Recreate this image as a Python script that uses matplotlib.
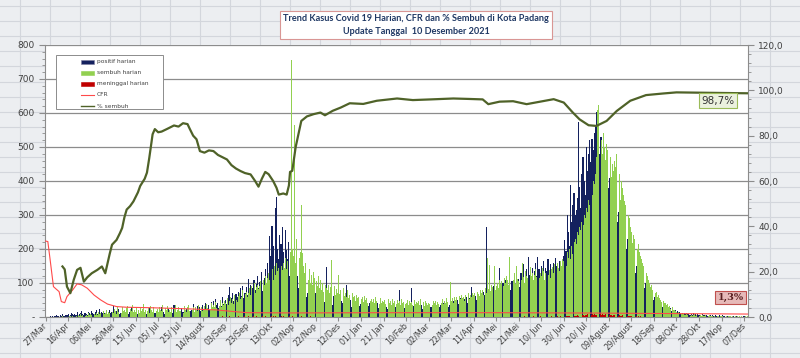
import numpy as np
import matplotlib
matplotlib.use('Agg')
import matplotlib.pyplot as plt
from matplotlib.ticker import MultipleLocator, FuncFormatter
from matplotlib.patches import Rectangle

#----------------------------------------------------------------------
# DATA  (day index 0 = 27 Mar 2020, last day = 10 Des 2021)
tick_labels = ['27/Mar', '16/Apr', '06/Mei', '26/Mei', '15/ Jun', '05/ Jul', '25/ Jul',
               '14/Agust', '03/Sep', '23/Sep', '13/Okt', '02/Nop', '22/Nop', '12/Des',
               '01/ Jan', '21/ Jan', '10/Feb', '02/Mar', '22/Mar', '11/Apr', '01/Mei',
               '21/Mei', '10/ Jun', '30/ Jun', '20/ Jul', '09/Agust', '29/Agust',
               '18/Sep', '08/Okt', '28/Okt', '17/Nop', '07/Des']

positif_harian = [
    2, 0, 1, 0, 3, 0, 2, 1, 4, 2,
    5, 3, 0, 6, 2, 8, 4, 3, 7, 5,
    9, 4, 6, 12, 8, 5, 10, 7, 14, 6,
    8, 11, 17, 9, 6, 13, 10, 7, 15, 12,
    9, 18, 11, 8, 14, 20, 10, 12, 24, 9,
    16, 11, 13, 8, 19, 10, 7, 22, 12, 15,
    32, 14, 9, 18, 11, 25, 8, 13, 20, 10,
    12, 7, 16, 22, 9, 14, 28, 10, 6, 15,
    11, 19, 8, 13, 24, 9, 12, 17, 7, 20,
    10, 14, 26, 9, 15, 8, 18, 11, 13, 22,
    8, 16, 12, 30, 10, 14, 9, 19, 12, 25,
    13, 8, 17, 11, 36, 14, 10, 21, 9, 16,
    12, 27, 15, 9, 18, 24, 11, 30, 14, 19,
    22, 37, 16, 25, 12, 33, 20, 28, 18, 35,
    24, 30, 41, 19, 27, 36, 22, 44, 30, 47,
    28, 52, 35, 40, 26, 48, 31, 58, 37, 45,
    50, 39, 66, 89, 42, 55, 70, 48, 62, 67,
    58, 75, 49, 84, 63, 92, 57, 71, 88, 66,
    112, 74, 95, 60, 86, 110, 78, 98, 121, 84,
    102, 90, 132, 76, 115, 140, 98, 160, 125, 237,
    180, 267, 210, 150, 320, 352, 200, 170, 240, 215,
    265, 190, 143, 256, 197, 170, 220, 120, 198, 160,
    150, 110, 135, 90, 120, 85, 105, 70, 95, 80,
    75, 88, 60, 72, 55, 68, 80, 50, 62, 58,
    70, 48, 55, 64, 42, 58, 50, 60, 45, 148,
    52, 40, 66, 48, 58, 35, 62, 44, 50, 38,
    45, 55, 34, 48, 40, 60, 38, 94, 46, 42,
    36, 50, 30, 44, 52, 28, 40, 35, 48, 32,
    38, 26, 42, 30, 35, 45, 28, 33, 40, 25,
    30, 38, 24, 35, 28, 42, 26, 32, 20, 36,
    28, 22, 34, 30, 25, 38, 24, 29, 20, 33,
    26, 30, 22, 35, 80, 28, 24, 32, 20, 27,
    30, 24, 33, 22, 28, 85, 26, 31, 23, 29,
    25, 32, 20, 28, 35, 24, 30, 22, 27, 34,
    26, 22, 30, 28, 35, 24, 32, 26, 40, 30,
    28, 35, 26, 42, 30, 38, 33, 45, 28, 36,
    40, 32, 48, 36, 44, 30, 50, 38, 55, 42,
    48, 36, 52, 45, 60, 40, 55, 48, 89, 50,
    58, 44, 62, 50, 66, 55, 48, 70, 60, 75,
    65, 266, 80, 60, 72, 55, 85, 68, 90, 62,
    78, 95, 70, 143, 82, 66, 100, 75, 110, 88,
    70, 92, 150, 80, 105, 98, 120, 85, 140, 95,
    112, 88, 130, 100, 155, 92, 118, 140, 105, 177,
    125, 110, 145, 100, 135, 160, 120, 177, 140, 115,
    150, 128, 165, 110, 145, 135, 170, 125, 155, 140,
    130, 160, 145, 175, 150, 138, 165, 155, 148, 170,
    180, 226, 195, 300, 250, 210, 388, 280, 330, 365,
    300, 315, 350, 574, 383, 320, 420, 471, 400, 360,
    500, 430, 480, 520, 455, 525, 490, 540, 565, 604,
    520, 560, 480, 530, 450, 500, 420, 460, 400, 430,
    380, 410, 350, 390, 330, 360, 300, 340, 280, 310,
    260, 290, 240, 270, 220, 250, 200, 230, 180, 210,
    160, 190, 150, 170, 130, 150, 120, 140, 100, 125,
    95, 110, 85, 100, 75, 90, 65, 80, 55, 70,
    50, 60, 45, 55, 40, 48, 35, 42, 30, 38,
    28, 34, 24, 30, 20, 26, 18, 22, 15, 20,
    14, 18, 12, 16, 10, 13, 8, 11, 9, 12,
    8, 10, 6, 9, 7, 11, 5, 8, 6, 9,
    5, 7, 4, 8, 6, 5, 3, 7, 4, 6,
    5, 3, 6, 4, 2, 5, 3, 4, 6, 2,
    3, 5, 2, 4, 1, 3, 2, 4, 3, 1,
    2, 3, 1, 2, 4, 1, 2, 0, 3, 1,
    2, 1, 0, 2]

sembuh_harian = [
    0, 0, 0, 0, 0, 0, 0, 0, 0, 0,
    0, 0, 0, 1, 0, 2, 0, 0, 3, 1,
    0, 2, 4, 0, 3, 1, 5, 2, 0, 6,
    3, 8, 2, 5, 10, 4, 7, 3, 12, 6,
    9, 5, 14, 8, 6, 11, 7, 16, 9, 13,
    10, 18, 8, 12, 20, 9, 15, 11, 22, 14,
    12, 25, 18, 10, 30, 15, 22, 13, 28, 17,
    20, 14, 26, 32, 11, 24, 18, 35, 16, 22,
    15, 28, 20, 12, 30, 18, 25, 38, 14, 22,
    19, 26, 12, 33, 21, 16, 28, 40, 18, 24,
    14, 30, 22, 18, 35, 12, 26, 20, 32, 16,
    22, 15, 28, 18, 25, 34, 14, 20, 30, 17,
    19, 26, 13, 32, 21, 16, 28, 35, 18, 24,
    20, 28, 15, 30, 22, 18, 35, 24, 29, 19,
    25, 32, 20, 38, 26, 30, 22, 40, 28, 35,
    30, 45, 26, 38, 33, 50, 28, 42, 36, 48,
    40, 55, 35, 47, 60, 42, 52, 38, 65, 50,
    45, 62, 70, 52, 58, 80, 55, 68, 75, 60,
    70, 85, 66, 92, 78, 100, 72, 88, 95, 82,
    90, 105, 80, 110, 95, 120, 100, 115, 130, 108,
    120, 140, 110, 150, 125, 160, 135, 145, 170, 150,
    138, 160, 145, 175, 140, 165, 150, 190, 756, 200,
    180, 565, 160, 230, 210, 175, 190, 330, 187, 150,
    130, 160, 120, 110, 140, 100, 125, 95, 133, 115,
    105, 90, 120, 85, 110, 80, 100, 75, 95, 85,
    80, 95, 70, 88, 168, 75, 90, 65, 82, 70,
    124, 68, 78, 60, 85, 62, 72, 58, 80, 55,
    65, 50, 70, 58, 62, 48, 66, 55, 60, 109,
    52, 58, 45, 62, 50, 56, 42, 60, 48, 54,
    45, 52, 40, 58, 46, 50, 38, 55, 42, 48,
    44, 50, 38, 46, 52, 40, 48, 36, 54, 42,
    46, 38, 50, 42, 48, 35, 52, 40, 45, 38,
    42, 50, 36, 48, 40, 45, 34, 50, 38, 44,
    40, 46, 35, 52, 38, 44, 32, 48, 40, 36,
    42, 38, 50, 35, 46, 40, 48, 36, 44, 38,
    45, 40, 52, 38, 48, 42, 55, 45, 50, 104,
    48, 55, 42, 60, 50, 58, 45, 62, 52, 66,
    55, 60, 48, 66, 58, 70, 52, 65, 60, 72,
    65, 70, 58, 75, 68, 62, 80, 72, 78, 66,
    85, 70, 173, 82, 153, 76, 95, 88, 150, 80,
    92, 100, 85, 110, 96, 105, 90, 115, 100, 120,
    108, 95, 177, 102, 0, 110, 130, 98, 150, 112,
    105, 125, 110, 160, 118, 100, 135, 122, 115, 177,
    148, 120, 130, 110, 125, 140, 118, 132, 115, 128,
    120, 145, 135, 110, 130, 150, 125, 138, 115, 140,
    148, 130, 155, 140, 160, 145, 135, 165, 150, 170,
    165, 180, 150, 190, 175, 200, 170, 210, 185, 220,
    230, 215, 250, 240, 265, 255, 280, 270, 300, 290,
    320, 310, 344, 330, 370, 360, 400, 390, 420, 471,
    609, 623, 450, 520, 480, 540, 500, 462, 510, 490,
    668, 470, 413, 450, 430, 460, 440, 480, 516, 420,
    344, 400, 380, 360, 340, 330, 320, 300, 290, 265,
    250, 217, 240, 230, 210, 200, 215, 190, 180, 170,
    160, 150, 140, 130, 120, 110, 100, 89, 95, 80,
    85, 70, 75, 60, 65, 55, 50, 45, 48, 40,
    42, 35, 38, 30, 32, 25, 28, 22, 20, 18,
    15, 12, 14, 11, 10, 8, 9, 7, 6, 8,
    5, 7, 4, 6, 3, 5, 8, 4, 6, 3,
    4, 6, 3, 5, 2, 4, 6, 3, 2, 5,
    3, 2, 4, 1, 3, 5, 2, 4, 1, 3,
    2, 4, 1, 3, 2, 1, 3, 2, 4, 1,
    2, 1, 3, 1, 2, 0, 2, 1, 3, 1,
    1, 2, 1, 2]

meninggal_harian = [
    0, 0, 1, 0, 0, 0, 1, 0, 0, 0,
    0, 1, 0, 0, 0, 0, 0, 1, 0, 0,
    0, 0, 0, 1, 0, 0, 0, 0, 0, 0,
    1, 0, 0, 0, 0, 0, 0, 0, 1, 0,
    0, 0, 0, 0, 0, 1, 0, 0, 0, 0,
    0, 0, 0, 0, 0, 0, 0, 0, 1, 0,
    0, 0, 0, 1, 0, 0, 0, 0, 0, 0,
    0, 0, 0, 0, 0, 1, 0, 0, 0, 0,
    0, 0, 0, 0, 0, 0, 0, 1, 0, 0,
    0, 0, 0, 0, 0, 0, 0, 0, 0, 1,
    0, 0, 0, 0, 0, 0, 1, 0, 0, 0,
    0, 0, 1, 0, 0, 0, 0, 0, 0, 0,
    0, 1, 0, 0, 0, 0, 0, 0, 1, 0,
    0, 0, 0, 1, 0, 0, 0, 0, 0, 1,
    0, 0, 1, 0, 0, 0, 1, 0, 0, 0,
    1, 0, 0, 0, 1, 0, 0, 2, 0, 0,
    1, 0, 0, 2, 0, 1, 0, 0, 1, 0,
    0, 2, 0, 1, 0, 0, 3, 0, 1, 0,
    2, 0, 1, 0, 3, 1, 0, 2, 0, 1,
    1, 0, 2, 1, 0, 3, 1, 0, 2, 1,
    2, 1, 3, 0, 2, 4, 1, 2, 0, 3,
    1, 2, 0, 3, 1, 0, 2, 1, 0, 2,
    1, 0, 2, 0, 1, 1, 0, 2, 0, 1,
    0, 1, 0, 1, 0, 2, 0, 0, 1, 0,
    1, 0, 0, 1, 0, 0, 1, 0, 0, 1,
    0, 0, 1, 0, 0, 1, 0, 0, 0, 1,
    0, 1, 0, 0, 0, 1, 0, 0, 1, 0,
    0, 0, 1, 0, 0, 0, 1, 0, 0, 0,
    1, 0, 0, 0, 1, 0, 0, 0, 1, 0,
    0, 0, 1, 0, 0, 0, 0, 1, 0, 0,
    0, 1, 0, 0, 0, 0, 1, 0, 0, 0,
    1, 0, 0, 0, 0, 1, 0, 0, 0, 0,
    0, 0, 1, 0, 0, 0, 0, 0, 1, 0,
    0, 0, 0, 1, 0, 0, 0, 0, 0, 1,
    0, 0, 0, 0, 1, 0, 0, 0, 0, 0,
    1, 0, 0, 0, 0, 0, 1, 0, 0, 0,
    0, 0, 1, 0, 0, 0, 0, 1, 0, 0,
    0, 1, 0, 0, 0, 1, 0, 0, 0, 1,
    0, 0, 1, 0, 1, 0, 0, 0, 1, 0,
    1, 0, 0, 1, 0, 0, 1, 0, 0, 1,
    0, 1, 0, 0, 1, 0, 1, 0, 0, 1,
    0, 1, 0, 1, 0, 0, 1, 0, 1, 0,
    1, 0, 1, 0, 0, 2, 0, 1, 0, 1,
    0, 1, 0, 2, 0, 1, 0, 1, 0, 2,
    1, 0, 1, 0, 2, 0, 1, 1, 0, 2,
    1, 2, 0, 1, 2, 1, 0, 2, 1, 2,
    2, 1, 3, 2, 2, 4, 3, 2, 5, 3,
    4, 3, 5, 4, 6, 3, 5, 7, 4, 6,
    5, 8, 6, 7, 5, 9, 6, 8, 7, 6,
    8, 7, 9, 6, 8, 7, 5, 8, 6, 7,
    6, 5, 7, 4, 6, 5, 4, 6, 3, 5,
    4, 3, 5, 3, 4, 2, 3, 4, 2, 3,
    2, 3, 1, 2, 3, 1, 2, 1, 2, 1,
    1, 2, 1, 0, 1, 1, 0, 1, 0, 1,
    0, 1, 0, 0, 1, 0, 0, 1, 0, 0,
    0, 0, 1, 0, 0, 0, 1, 0, 0, 0,
    0, 0, 0, 1, 0, 0, 0, 0, 0, 0,
    0, 0, 0, 0, 0, 1, 0, 0, 0, 0,
    0, 0, 0, 0, 0, 0, 0, 0, 0, 0,
    0, 0, 1, 0, 0, 0, 0, 0, 0, 0,
    0, 0, 0, 0, 0, 0, 0, 0, 0, 0,
    0, 0, 0, 0, 0, 0, 0, 0, 0, 0,
    0, 0, 0, 0]

# % sembuh (right axis)
sembuh_hari = [15, 17, 19, 22, 25, 28, 31, 34, 37, 41, 46, 50, 53, 57, 59, 63, 66, 68,
               70, 72, 75, 78, 82, 84, 88, 90, 92, 94, 95, 97, 100, 103, 108, 114, 118,
               122, 126, 128, 131, 134, 137, 141, 145, 149, 153, 157, 161, 165, 169, 173,
               177, 182, 186, 189, 192, 195, 198, 202, 205, 207, 211, 214, 216, 217, 219,
               222, 227, 232, 238, 244, 248, 255, 262, 270, 282, 294, 312, 326, 342, 362,
               376, 388, 393, 403, 415, 427, 439, 451, 460, 468, 474, 482, 489, 498, 507,
               519, 533, 548, 560, 590, 623]
sembuh_pct = [22.3, 21.0, 13.4, 10.5, 16.4, 20.8, 21.7, 15.6, 17.5, 19.3, 20.8, 22.3, 19.3,
              28.0, 31.9, 34.0, 37.0, 39.3, 44.0, 47.4, 48.9, 51.0, 55.0, 57.8, 61.0, 63.7,
              70.0, 77.0, 80.6, 82.9, 81.5, 81.8, 83.0, 84.5, 84.0, 85.5, 85.1, 83.0, 80.0,
              78.4, 73.2, 72.5, 73.5, 73.2, 71.5, 70.5, 69.5, 67.0, 65.5, 64.4, 63.5, 62.9,
              60.0, 57.5, 61.0, 64.0, 63.0, 60.0, 57.0, 54.0, 54.5, 54.0, 58.0, 64.0, 64.5,
              75.0, 86.5, 88.5, 89.5, 90.2, 89.0, 91.0, 92.4, 94.3, 94.0, 95.4, 96.4, 95.7,
              96.0, 96.4, 96.2, 96.0, 93.9, 95.0, 95.2, 93.9, 95.0, 96.1, 94.6, 90.2, 87.2,
              84.6, 84.3, 86.5, 90.9, 95.4, 97.9, 98.6, 99.1, 98.9, 98.7]

# CFR (right axis)
cfr_hari = [0, 2, 4, 7, 9, 12, 14, 17, 19, 24, 28, 32, 37, 43, 49, 55, 63, 72, 93, 126,
            152, 167, 179, 220, 300, 400, 460, 500, 560, 623]
cfr_pct = [33.5, 33.3, 25.5, 13.4, 12.5, 11.2, 6.8, 6.3, 9.0, 11.9, 14.6, 14.2, 12.7, 9.7,
           7.5, 5.7, 4.6, 4.3, 4.1, 3.6, 3.1, 2.4, 1.9, 1.8, 1.9, 1.9, 1.8, 1.7, 1.5, 1.3]

legend_labels = ['positif harian', 'sembuh harian', 'meninggal harian', 'CFR', '% sembuh']

#----------------------------------------------------------------------
# FIGURE
W, H = 800, 358
fig = plt.figure(figsize=(8, 3.58), dpi=100, facecolor='#eceef1')

# spreadsheet grid behind the chart
bg = fig.add_axes([0, 0, 1, 1], zorder=-10)
bg.set_xlim(0, W)
bg.set_ylim(H, 0)
bg.axis('off')
for y in np.arange(6, H, 15.1):
    bg.axhline(y, color='#d3d6dc', lw=0.8)
for x in np.arange(20, W, 30):
    bg.axvline(x, color='#d3d6dc', lw=0.8)

ax = fig.add_axes([45/W, 1-317/H, 703/W, 272/H])
ax.set_facecolor('white')

# columns: navy behind, green in front on most of the day slot (pixel snapped)
ax.bar(np.arange(len(positif_harian)), positif_harian, width=1.0, color='#14215e', lw=0, zorder=2)
ax.bar(np.arange(len(sembuh_harian)) + 0.1, sembuh_harian, width=0.8, color='#92d050', lw=0,
       zorder=3, antialiased=False)
ax.bar(np.arange(len(meninggal_harian)) + 0.3, meninggal_harian, width=0.6, color='#c00000', lw=0, zorder=4)

ax.set_xlim(-0.5, 623.5)
ax.set_ylim(0, 800)
ax.yaxis.set_major_locator(MultipleLocator(100))
ax.yaxis.set_minor_locator(MultipleLocator(20))
ax.yaxis.set_major_formatter(FuncFormatter(lambda v, p: '-' if v == 0 else '%d' % v))
ax.yaxis.grid(True, color='#8c8c8c', lw=0.9)
ax.set_axisbelow(True)
ax.set_xticks(np.arange(len(tick_labels)) * 20)
ax.set_xticklabels(tick_labels, rotation=45, ha='right', va='center',
                   rotation_mode='anchor', fontsize=5.8, color='#404040')
ax.tick_params(axis='x', length=3, color='#8c8c8c', pad=2)
ax.tick_params(axis='y', which='major', length=4, color='#8c8c8c', labelsize=6.5, labelcolor='#404040')
ax.tick_params(axis='y', which='minor', length=2, color='#8c8c8c')
for s in ['top', 'right']:
    ax.spines[s].set_visible(False)
for s in ['left', 'bottom']:
    ax.spines[s].set_color('#8c8c8c')

ax2 = ax.twinx()
ax2.plot(cfr_hari, cfr_pct, color='#ff4a4a', lw=0.8, zorder=5)
ax2.plot(sembuh_hari, sembuh_pct, color='#4f6228', lw=1.6, zorder=6)
ax2.set_ylim(0, 120)
ax2.yaxis.set_major_locator(MultipleLocator(20))
ax2.yaxis.set_minor_locator(MultipleLocator(4))
ax2.yaxis.set_major_formatter(FuncFormatter(lambda v, p: ('%.1f' % v).replace('.', ',')))
ax2.tick_params(axis='y', which='major', length=4, color='#8c8c8c', labelsize=6.5, labelcolor='#404040')
ax2.tick_params(axis='y', which='minor', length=2, color='#8c8c8c')
for s in ['top', 'left', 'bottom']:
    ax2.spines[s].set_visible(False)
ax2.spines['right'].set_color('#8c8c8c')

# end labels
ax2.text(597, 95.5, '98,7%', ha='center', va='center', fontsize=7.5, color='#333333',
         bbox=dict(boxstyle='square,pad=0.2', fc='#ebf1de', ec='#9bbb59', lw=0.8), zorder=10)
ax2.text(608, 8.6, '1,3%', ha='center', va='center', fontsize=7, color='#5a2020',
         family='DejaVu Serif', weight='bold',
         bbox=dict(boxstyle='square,pad=0.25', fc='#e6b9b8', ec='#c0504d', lw=0.8), zorder=10)

# legend, drawn in pixel coordinates on an overlay
lg = fig.add_axes([0, 0, 1, 1], zorder=30)
lg.set_xlim(0, W)
lg.set_ylim(H, 0)
lg.axis('off')
lg.add_patch(Rectangle((56, 55), 107, 54, fc='white', ec='#8c8c8c', lw=0.7))
row_y = [62, 73, 84, 95, 106]
lg.add_patch(Rectangle((81, row_y[0] - 2), 13, 4, fc='#14215e', ec='#7f7fa0', lw=0.4))
lg.add_patch(Rectangle((81, row_y[1] - 2), 13, 4, fc='#92d050', ec='#92d050', lw=0.4))
lg.add_patch(Rectangle((81, row_y[2] - 2), 13, 4, fc='#c00000', ec='#c00000', lw=0.4))
lg.plot([81, 94], [row_y[3], row_y[3]], color='#ff4a4a', lw=0.8)
lg.plot([81, 94], [row_y[4], row_y[4]], color='#4f6228', lw=1.0)
for yy, lab in zip(row_y, legend_labels):
    lg.text(97, yy, lab, fontsize=4.2, color='#404040', va='center', ha='left')

# title
fig.text(416/W, 1-25/H, 'Trend Kasus Covid 19 Harian, CFR dan % Sembuh di Kota Padang\n'
         'Update Tanggal  10 Desember 2021', ha='center', va='center',
         fontsize=6.6, weight='bold', color='#1f3864', linespacing=1.6,
         family=['Lato', 'DejaVu Sans'],
         bbox=dict(boxstyle='square,pad=0.35', fc='white', ec='#d99694', lw=0.8))

fig.savefig('out.png', dpi=100, facecolor=fig.get_facecolor())
